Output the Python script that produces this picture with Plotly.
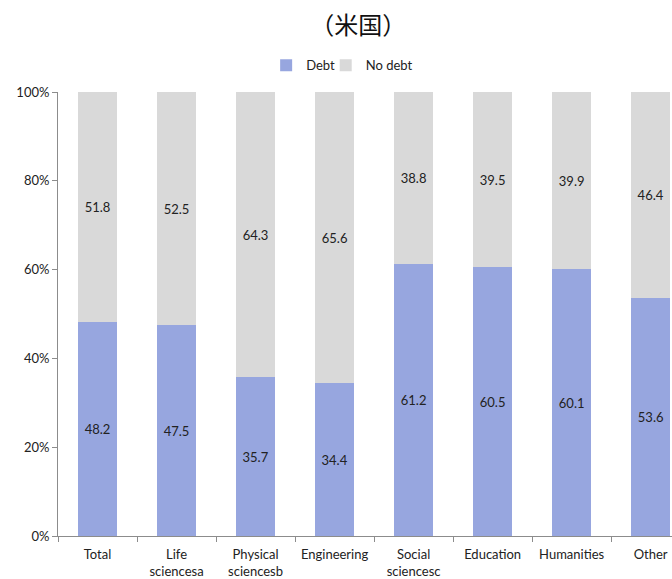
import plotly.graph_objects as go

categories = ["Total", "Life<br>sciencesa", "Physical<br>sciencesb", "Engineering",
              "Social<br>sciencesc", "Education", "Humanities", "Other"]
debt = [48.2, 47.5, 35.7, 34.4, 61.2, 60.5, 60.1, 53.6]
no_debt = [51.8, 52.5, 64.3, 65.6, 38.8, 39.5, 39.9, 46.4]

FONT = "Lato, 'Noto Sans CJK JP', sans-serif"

fig = go.Figure()
fig.add_trace(go.Bar(
    x=categories, y=[v / 100 for v in debt], name="Debt", legend="legend",
    showlegend=True,
    marker=dict(color="#97A6DF", line=dict(width=0)),
    text=[f"{v:.1f}" for v in debt], textposition="inside", insidetextanchor="middle",
    textfont=dict(size=13, color="#222222", family=FONT), textangle=0,
))
fig.add_trace(go.Bar(
    x=categories, y=[v / 100 for v in no_debt], name="No debt", legend="legend2",
    showlegend=True,
    marker=dict(color="#D9D9D9", line=dict(width=0)),
    text=[f"{v:.1f}" for v in no_debt], textposition="inside", insidetextanchor="middle",
    textfont=dict(size=13, color="#222222", family=FONT), textangle=0,
))

leg_common = dict(orientation="h", y=1.06, yanchor="middle", xanchor="left",
                  font=dict(size=13), itemwidth=30, bgcolor="rgba(0,0,0,0)")

fig.update_layout(
    barmode="stack",
    bargap=0.5,
    width=672, height=579,
    margin=dict(l=58, r=0, t=92, b=43),
    paper_bgcolor="white", plot_bgcolor="white",
    showlegend=True,
    font=dict(family=FONT, size=13, color="#222222"),
    title=dict(text="（米国）", x=0.533, xanchor="center", y=0.955, yanchor="middle",
               font=dict(size=24, family="'Noto Sans CJK JP', sans-serif", color="#111111")),
    legend=dict(x=0.339, visible=True, **leg_common),
    legend2=dict(x=0.436, visible=True, **leg_common),
    uniformtext=dict(mode="show", minsize=10),
)
fig.update_xaxes(
    type="category", range=[-0.5, 7.27], tickson="boundaries",
    showline=True, linecolor="#8c8c8c", linewidth=1,
    ticks="outside", ticklen=5, tickcolor="#8c8c8c",
    showgrid=False, tickfont=dict(size=13), ticklabelstandoff=6,
)
fig.update_yaxes(
    range=[0, 1], tickvals=[0, 0.2, 0.4, 0.6, 0.8, 1.0],
    ticktext=["0%", "20%", "40%", "60%", "80%", "100%"],
    showline=True, linecolor="#8c8c8c", linewidth=1,
    ticks="outside", ticklen=5, tickcolor="#8c8c8c",
    showgrid=False, zeroline=False, tickfont=dict(size=13),
)

fig.write_html("out.html")
